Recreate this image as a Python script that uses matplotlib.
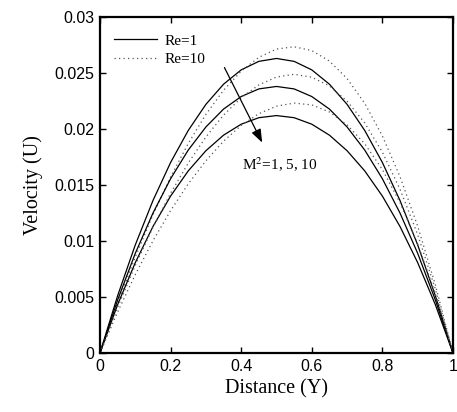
import matplotlib
matplotlib.use("Agg")
import matplotlib.pyplot as plt
from matplotlib.ticker import FixedLocator, FixedFormatter

# Distance samples
Y = [0.00, 0.05, 0.10, 0.15, 0.20, 0.25, 0.30, 0.35, 0.40, 0.45, 0.50,
     0.55, 0.60, 0.65, 0.70, 0.75, 0.80, 0.85, 0.90, 0.95, 1.00]

# Re = 1 (solid), M^2 = 1, 5, 10
re1_m1 = [0, .00512, .00965, .01361, .01701, .01987, .02220, .02400, .02528, .02604, .02630,
          .02604, .02528, .02400, .02220, .01987, .01701, .01361, .00965, .00512, 0]
re1_m5 = [0, .00474, .00890, .01249, .01556, .01812, .02018, .02178, .02290, .02358, .02380,
          .02358, .02290, .02178, .02018, .01812, .01556, .01249, .00890, .00474, 0]
re1_m10 = [0, .00432, .00807, .01129, .01401, .01626, .01806, .01945, .02043, .02101, .02120,
           .02101, .02043, .01945, .01806, .01626, .01401, .01129, .00807, .00432, 0]

# Re = 10 (dotted), M^2 = 1, 5, 10
re10_m1 = [0, .004463, .008577, .012334, .015714, .018710, .021302, .023461, .025170, .026399, .027140,
           .027345, .027004, .026068, .024510, .022291, .019381, .015743, .011328, .006096, 0]
re10_m5 = [0, .004083, .007827, .011214, .014264, .016960, .019282, .021241, .022790, .023939, .024640,
           .024885, .024624, .023848, .022490, .020541, .017931, .014623, .010578, .005716, 0]
re10_m10 = [0, .003663, .006997, .010014, .012714, .015100, .017162, .018911, .020320, .021369, .022040,
            .022315, .022154, .021518, .020370, .018681, .016381, .013423, .009748, .005296, 0]

xticks = [0, 0.2, 0.4, 0.6, 0.8, 1.0]
xticklabels = ["0", "0.2", "0.4", "0.6", "0.8", "1"]
yticks = [0, 0.005, 0.01, 0.015, 0.02, 0.025, 0.03]
yticklabels = ["0", "0.005", "0.01", "0.015", "0.02", "0.025", "0.03"]

plt.rcParams['mathtext.fontset'] = 'stix'

fig = plt.figure(figsize=(4.57, 4.12), dpi=100)
ax = fig.add_axes([0.2188, 0.1432, 0.9912 - 0.2188, 0.9587 - 0.1432])

solid_kw = dict(color='black', lw=0.9, linestyle='-', solid_joinstyle='round')
dot_kw = dict(color='#555555', lw=0.9, linestyle=(0, (1, 2.6)))

ax.plot(Y, re1_m1, label='Re=1', **solid_kw)
ax.plot(Y, re10_m1, label='Re=10', **dot_kw)
ax.plot(Y, re1_m5, **solid_kw)
ax.plot(Y, re1_m10, **solid_kw)
ax.plot(Y, re10_m5, **dot_kw)
ax.plot(Y, re10_m10, **dot_kw)

ax.set_xlim(0, 1)
ax.set_ylim(0, 0.03)
ax.xaxis.set_major_locator(FixedLocator(xticks))
ax.xaxis.set_major_formatter(FixedFormatter(xticklabels))
ax.yaxis.set_major_locator(FixedLocator(yticks))
ax.yaxis.set_major_formatter(FixedFormatter(yticklabels))
ax.tick_params(direction='in', top=True, right=True, length=4, width=1,
               labelsize=11.5, pad=4)
for lab in ax.get_xticklabels() + ax.get_yticklabels():
    lab.set_fontfamily('Liberation Sans')
for s in ax.spines.values():
    s.set_linewidth(1.6)

ax.set_xlabel('Distance (Y)', fontfamily='Liberation Serif', fontsize=14.5, labelpad=4)
ax.set_ylabel('Velocity (U)', fontfamily='Liberation Serif', fontsize=14.5, labelpad=8)

leg = ax.legend(loc='upper left', frameon=False, prop={'family': 'Liberation Serif', 'size': 11},
                handlelength=2.8, handletextpad=0.5, labelspacing=0.3,
                bbox_to_anchor=(0.0, 0.99), borderaxespad=0.5)

ax.annotate('', xy=(0.463, 0.01857), xytext=(0.349, 0.02571),
            arrowprops=dict(arrowstyle='-|>,head_length=0.8,head_width=0.3', color='black', lw=0.9))
ax.text(0.403, 0.0168, 'M$^2$=1, 5, 10', fontfamily='Liberation Serif', fontsize=11,
        va='center', ha='left')

fig.savefig('out.png', dpi=100)
